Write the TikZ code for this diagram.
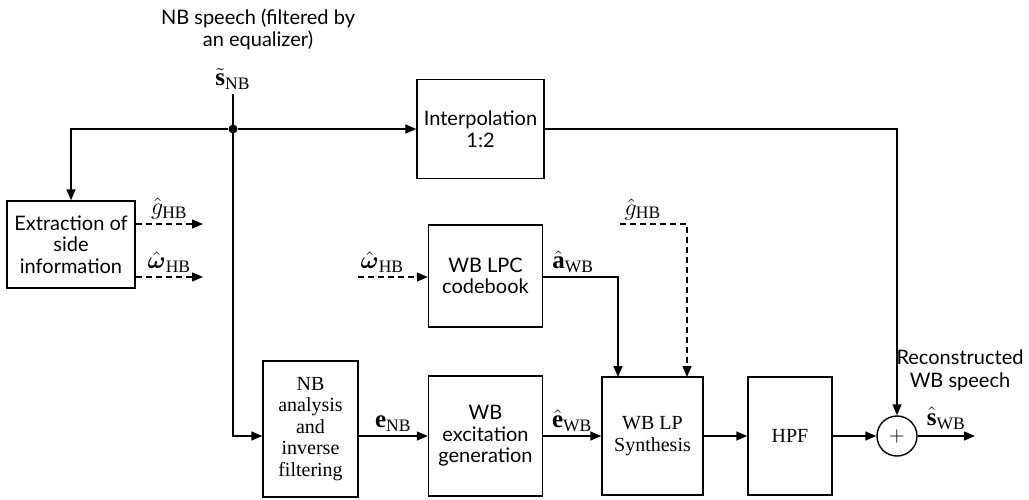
\documentclass[tikz,border=0pt]{standalone}
\usepackage{amsmath}
\usepackage{fontspec}
\setmainfont{Liberation Serif}
\newfontfamily\lato{Lato}
\usetikzlibrary{arrows.meta,positioning}

\begin{document}
\begin{tikzpicture}[x=0.5pt, y=-0.5pt, line width=0.7pt,
	>={Triangle[length=5.5pt,width=4.5pt]},
	every node/.style={font=\fontsize{10}{10.8}\selectfont},
	blk/.style={draw, align=center, inner sep=1pt},
	sblk/.style={blk, font=\lato\fontsize{10}{10.8}\selectfont},
	lbl/.style={font=\fontsize{12.5}{14}\selectfont, inner sep=2pt},
	side/.style={dash pattern=on 3pt off 2pt}]
	\useasboundingbox (0,0) rectangle (1029,499);

	% blocks
	\node[sblk, minimum width=63.5pt, minimum height=49.5pt] (interp) at (480.5,129) {Interpolation\\1:2};
	\node[sblk, minimum width=64pt, minimum height=43.5pt] (extr) at (71,244.5) {Extraction of\\side\\information};
	\node[sblk, minimum width=57pt, minimum height=51pt] (lpc) at (485.5,276) {WB LPC\\codebook};
	\node[blk, minimum width=47.5pt, minimum height=68pt] (nbana) at (310.5,429) {NB\\analysis\\and\\inverse\\filtering};
	\node[sblk, minimum width=57pt, minimum height=60pt] (exc) at (485.5,436) {WB\\excitation\\generation};
	\node[blk, minimum width=50.5pt, minimum height=59pt] (syn) at (652.5,436) {WB LP\\Synthesis};
	\node[blk, minimum width=42pt, minimum height=59pt] (hpf) at (790,436) {HPF};
	\node[draw, circle, inner sep=0pt, minimum size=20pt] (sum) at (897,436) {$+$};

	% texts
	\node[align=center, font=\lato\fontsize{10}{11}\selectfont] (title) at (258,29) {NB speech (filtered by\\an equalizer)};
	\node[lbl] (snb) at (233,79) {$\tilde{\mathbf{s}}_{\mathrm{NB}}$};
	\node[align=center, font=\lato\fontsize{10}{11.5}\selectfont] (recon) at (960,370) {Reconstructed\\WB speech};
	\node[lbl] (ghb2) at (643,209) {$\hat{g}_{\mathrm{HB}}$};

	\node[circle, fill, inner sep=0pt, minimum size=4.5pt] (j) at (233,129) {};
	\coordinate (g1) at (203,224);
	\coordinate (w1) at (203,277);
	\coordinate (win) at (358,277);
	\coordinate (asyn) at (618,377);
	\coordinate (gin) at (620,224);
	\coordinate (gsyn) at (687,377);
	\coordinate (out) at (975,436);

	% signal paths
	\draw[->] (j) -| (extr.north);
	\draw[->] (j) -- (interp.west);
	\draw[->] (interp.east) -| (sum.north);
	\draw[->] (snb.south) |- (nbana.west |- sum);
	\draw[->] (nbana.east |- sum) -- (exc.west |- sum) node[midway, above, lbl] {$\mathbf{e}_{\mathrm{NB}}$};
	\draw[->] (exc) -- (syn) node[midway, above, lbl] {$\hat{\mathbf{e}}_{\mathrm{WB}}$};
	\draw[->] (syn) -- (hpf);
	\draw[->] (hpf) -- (sum);
	\draw[->] (sum) -- (out) node[midway, above, lbl, yshift=1pt] {$\hat{\mathbf{s}}_{\mathrm{WB}}$};
	\draw[->] (lpc.east |- win) -| (asyn) node[pos=0.2, above, lbl] {$\hat{\mathbf{a}}_{\mathrm{WB}}$};

	% side information
	\draw[->, side] (extr.east |- g1) -- (g1) node[midway, above, lbl] {$\hat{g}_{\mathrm{HB}}$};
	\draw[->, side] (extr.east |- w1) -- (w1) node[midway, above, lbl] {$\hat{\boldsymbol{\omega}}_{\mathrm{HB}}$};
	\draw[->, side] (win) -- (lpc.west |- win) node[pos=0.35, above, lbl] {$\hat{\boldsymbol{\omega}}_{\mathrm{HB}}$};
	\draw[->, side] (gin) -| (gsyn);

\end{tikzpicture}
\end{document}
